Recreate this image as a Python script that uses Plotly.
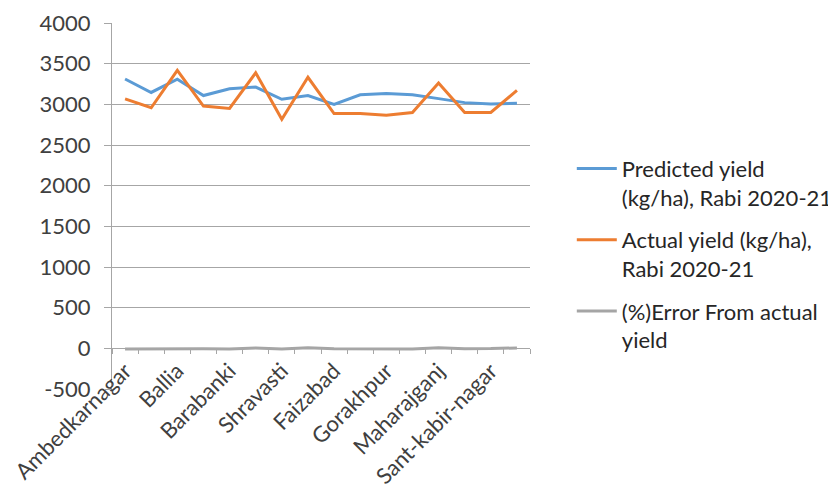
import plotly.graph_objects as go

districts = ["Ambedkarnagar", "Azamgarh", "Ballia", "Bahraich", "Barabanki", "Balrampur",
             "Shravasti", "Basti", "Faizabad", "Gonda", "Gorakhpur", "Deoria",
             "Maharajganj", "Kushinagar", "Sant-kabir-nagar", "Siddharthnagar"]
predicted = [3312, 3146, 3310, 3108, 3192, 3212, 3062, 3108, 3000, 3117, 3133, 3117, 3070, 3021, 3003, 3012]
actual = [3067, 2958, 3417, 2979, 2950, 3388, 2817, 3333, 2887, 2887, 2867, 2900, 3262, 2900, 2900, 3171]
error_pct = [-7.4, -6.0, 2.8, -4.0, -7.6, 5.5, -7.9, 7.0, -3.9, -7.4, -8.5, -7.0, 6.2, -4.0, -3.4, 5.0]
labelled = [1, 3, 5, 7, 9, 11, 13, 15]
y_ticks = [-500, 0, 500, 1000, 1500, 2000, 2500, 3000, 3500, 4000]
y_tick_labels = ["-500", "0", "500", "1000", "1500", "2000", "2500", "3000", "3500", "4000"]

x = list(range(1, len(districts) + 1))
FONT = "Lato"
GRID = "#a6a6a6"

fig = go.Figure()
fig.add_trace(go.Scatter(x=x, y=predicted, mode="lines", name="Predicted yield<br>(kg/ha), Rabi 2020-21",
                         legendgroup="a", line=dict(color="#5B9BD5", width=3)))
fig.add_trace(go.Scatter(x=x, y=actual, mode="lines", name="Actual yield (kg/ha),<br>Rabi 2020-21",
                         legendgroup="b", line=dict(color="#ED7D31", width=3)))
fig.add_trace(go.Scatter(x=x, y=error_pct, mode="lines", name="(%)Error From actual<br>yield",
                         legendgroup="c", line=dict(color="#A5A5A5", width=3)))

ymin, ymax = y_ticks[0], y_ticks[-1]
fig.update_layout(
    width=836, height=496,
    margin=dict(l=104, r=314, t=15, b=115, autoexpand=False),
    paper_bgcolor="white", plot_bgcolor="white",
    font=dict(family=FONT, size=21, color="#404040"),
    showlegend=True,
    legend=dict(x=1.10, xanchor="left", y=0.368, yanchor="middle",
                font=dict(family=FONT, size=22, color="#262626"),
                tracegroupgap=11, itemwidth=40, valign="top",
                bgcolor="rgba(0,0,0,0)"),
    xaxis=dict(range=[0.5, len(districts) + 0.5], tickmode="array",
               tickvals=labelled, ticktext=[districts[i - 1] for i in labelled],
               tickangle=-45, ticks="", showgrid=False, zeroline=False,
               showline=True, linecolor=GRID, linewidth=1, automargin=False,
               anchor="free", position=(0 - ymin) / (ymax - ymin),
               minor=dict(tickmode="linear", tick0=0.5, dtick=1, ticks="outside",
                          ticklen=5, tickcolor=GRID, showgrid=False),
               tickfont=dict(family=FONT, size=22, color="#404040")),
    yaxis=dict(range=[ymin, ymax], tickmode="array", tickvals=y_ticks,
               ticktext=y_tick_labels,
               ticks="outside", ticklen=7, tickcolor=GRID, automargin=False,
               ticklabelstandoff=9,
               showgrid=True, gridcolor=GRID, gridwidth=1, zeroline=False,
               showline=True, linecolor=GRID, linewidth=1,
               tickfont=dict(family=FONT, size=22, color="#404040")),
)

fig.write_html("out.html")
